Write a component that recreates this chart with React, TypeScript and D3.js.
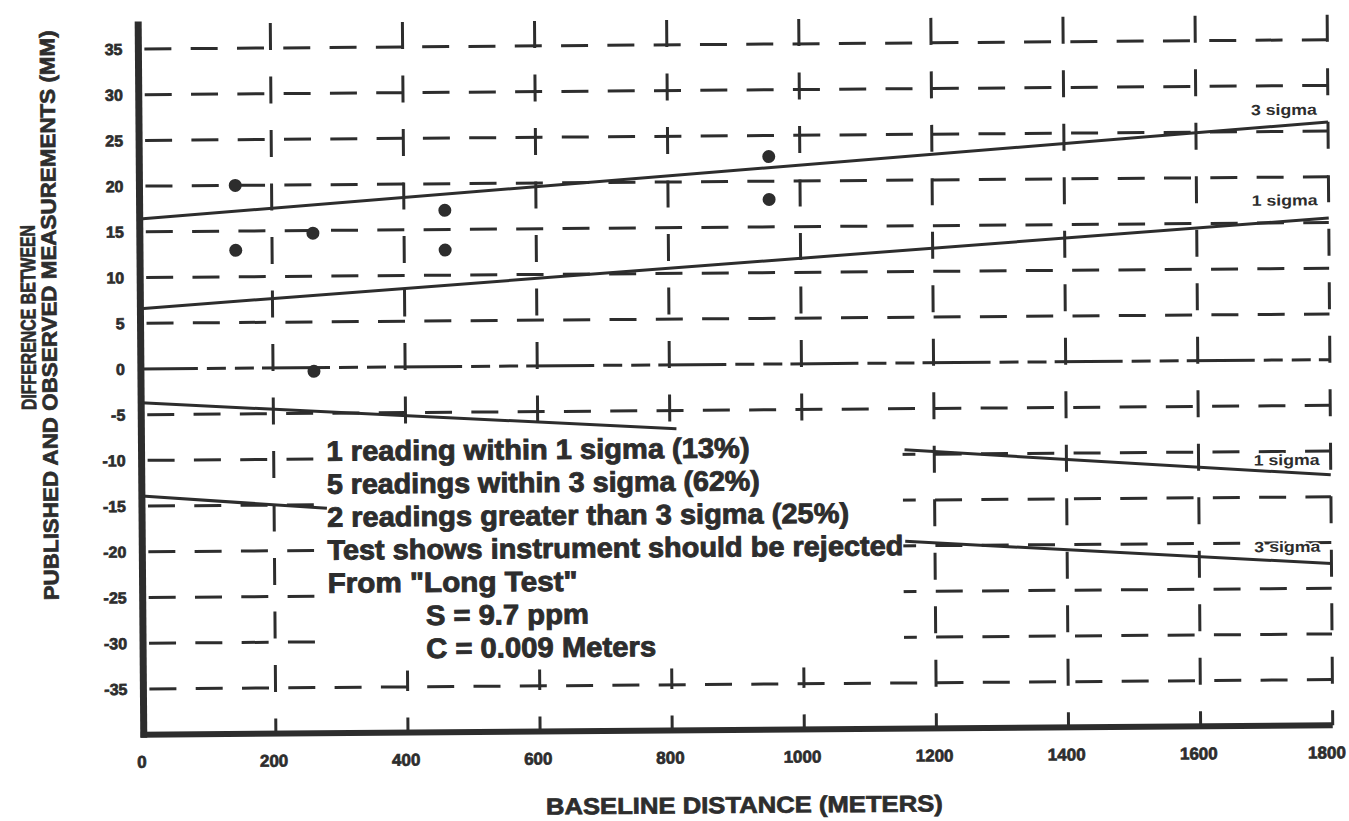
import React from "react";
import * as d3 from "d3";

// values
const xTicks = [0, 200, 400, 600, 800, 1000, 1200, 1400, 1600, 1800];
const yTicks = [35, 30, 25, 20, 15, 10, 5, 0, -5, -10, -15, -20, -25, -30, -35];

const readingDist = [145, 145, 262, 262, 462, 462, 953, 953];
const readingDiff = [20, 12.9, 14.7, -0.4, 17.1, 12.75, 22.7, 18.0];

// sigma bands: [distance, mm]; lower ones are broken by the note block
const upper3 = [[[0, 16.4], [1800, 26.0]]];
const upper1 = [[[0, 6.6], [1800, 15.5]]];
const lower1 = [[[0, -3.7], [810, -7.0]], [[1155, -9.5], [1800, -12.6]]];
const lower3 = [[[0, -13.9], [280, -15.4]], [[1155, -19.5], [1800, -22.3]]];

const sigmaText = ["3 sigma", "1 sigma", "1 sigma", "3 sigma"];
const sigmaTextAt = [[1800, 26.8], [1800, 16.9], [1800, -11.5], [1800, -21.0]];

const notes = [
  "1 reading within 1 sigma (13%)",
  "5 readings within 3 sigma (62%)",
  "2 readings greater than 3 sigma (25%)",
  "Test shows instrument should be rejected",
  'From "Long Test"',
  "S = 9.7 ppm",
  "C = 0.009 Meters",
];
const noteIndent = [0, 0, 0, 0, 0, 1, 1];
const noteWidths = [423, 433, 522, 576, 250, 163, 230];

const INK = "#2d2d2d";
const FONT = "'Liberation Sans', Arial, Helvetica, sans-serif";

export default function App() {
  const W = 1349;
  const H = 821;
  const x = d3.scaleLinear().domain([0, 1800]).range([141, 1330]);
  const y = d3.scaleLinear().domain([-40, 38]).range([730, 16.9]);
  const line = d3
    .line<number[]>()
    .x((d) => x(d[0]))
    .y((d) => y(d[1]));

  const period = x(200) - x(0);
  const zeroDash = [68, 9, 19, 9, 19, period - 124].join(" ");

  const sigmaSegs = [...upper3, ...upper1, ...lower1, ...lower3];

  // heavier ink, like the photocopy
  const heavy = { fill: INK, stroke: INK, strokeWidth: 0.7, fontWeight: "bold" as const };

  return (
    <svg
      width={W}
      height={H}
      style={{ position: "absolute", left: 0, top: 0, background: "#fff" }}
      fontFamily={FONT}
    >
      <rect width={W} height={H} fill="#fff" />
      <g transform="rotate(-0.45 737 380)">
        {/* horizontal grid */}
        {yTicks.map((t) => (
          <line
            key={"h" + t}
            x1={x(0)}
            x2={x(1800)}
            y1={y(t)}
            y2={y(t)}
            stroke={INK}
            strokeWidth={3}
            strokeDasharray={t === 0 ? zeroDash : "27 19.3"}
            strokeDashoffset={t === 0 ? 11 : -6}
          />
        ))}
        {/* vertical grid */}
        {xTicks.slice(1).map((t) => (
          <line
            key={"v" + t}
            x1={x(t)}
            x2={x(t)}
            y1={y(38)}
            y2={y(-40)}
            stroke={INK}
            strokeWidth={3}
            strokeDasharray="27 26.5"
            strokeDashoffset={-2.5}
          />
        ))}

        {/* white block behind the notes */}
        <rect x={313} y={425} width={589} height={243} fill="#fff" />

        {/* axes */}
        <line x1={x(0)} x2={x(0)} y1={y(38)} y2={y(-40) + 3} stroke={INK} strokeWidth={7} />
        <line x1={x(0) - 3} x2={x(1800)} y1={y(-40)} y2={y(-40)} stroke={INK} strokeWidth={6} />

        {/* sigma lines */}
        {sigmaSegs.map((s, i) => (
          <path key={"s" + i} d={line(s) || ""} fill="none" stroke={INK} strokeWidth={3} />
        ))}
        {sigmaText.map((s, i) => (
          <text
            key={"st" + i}
            x={x(sigmaTextAt[i][0]) - 11}
            y={y(sigmaTextAt[i][1])}
            textAnchor="end"
            fontSize={15}
            fontWeight="bold"
            fill={INK}
            stroke="#fff"
            strokeWidth={3}
            paintOrder="stroke"
            textLength={66}
            lengthAdjust="spacingAndGlyphs"
          >
            {s}
          </text>
        ))}

        {/* readings */}
        {readingDist.map((d, i) => (
          <circle key={"p" + i} cx={x(d)} cy={y(readingDiff[i])} r={6.5} fill={INK} />
        ))}

        {/* tick labels */}
        {yTicks.map((t) => (
          <text
            key={"yl" + t}
            x={x(0) - 16}
            y={y(t)}
            dy="0.36em"
            textAnchor="end"
            fontSize={16}
            {...heavy}
          >
            {t}
          </text>
        ))}
        {xTicks.map((t) => (
          <text
            key={"xl" + t}
            x={x(t) - (t === 1800 ? 6 : 2)}
            y={y(-40) + 33}
            textAnchor="middle"
            fontSize={17}
            {...heavy}
          >
            {t}
          </text>
        ))}

        {/* notes */}
        {notes.map((n, i) => (
          <text
            key={"n" + i}
            x={noteIndent[i] ? 424 : 326}
            y={457.5 + 33 * i}
            fontSize={28}
            {...heavy}
            strokeWidth={0.9}
            textLength={noteWidths[i]}
            lengthAdjust="spacingAndGlyphs"
          >
            {n}
          </text>
        ))}

        {/* axis titles */}
        <text
          x={741}
          y={813}
          textAnchor="middle"
          fontSize={23}
          {...heavy}
          textLength={397}
          lengthAdjust="spacingAndGlyphs"
        >
          BASELINE DISTANCE (METERS)
        </text>
        <text
          transform="translate(36 312) rotate(-90)"
          textAnchor="middle"
          fontSize={21}
          {...heavy}
          textLength={185}
          lengthAdjust="spacingAndGlyphs"
        >
          DIFFERENCE BETWEEN
        </text>
        <text
          transform="translate(57 310) rotate(-90)"
          textAnchor="middle"
          fontSize={21}
          {...heavy}
          textLength={570}
          lengthAdjust="spacingAndGlyphs"
        >
          PUBLISHED AND OBSERVED MEASUREMENTS (MM)
        </text>
      </g>
    </svg>
  );
}
